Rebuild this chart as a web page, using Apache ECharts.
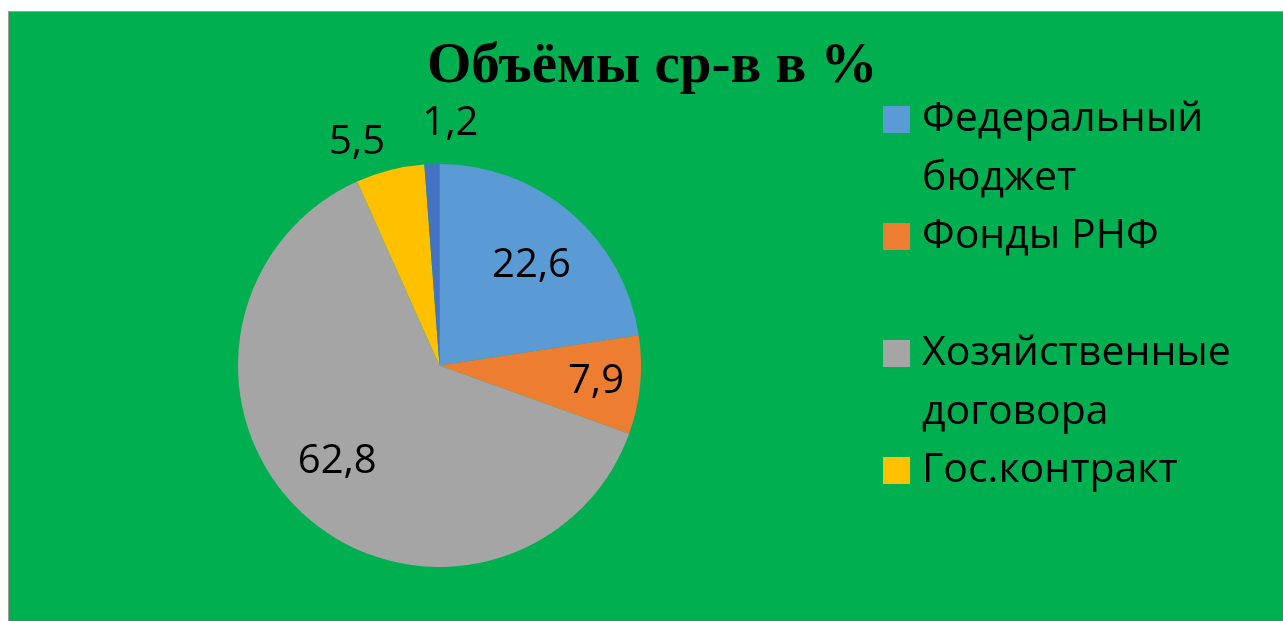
<!DOCTYPE html>
<html><head><meta charset="utf-8">
<script src="https://cdn.jsdelivr.net/npm/echarts@6/dist/echarts.min.js"></script>
<style>
html,body{margin:0;padding:0;background:#fff;width:1283px;height:621px;overflow:hidden}
#chart{position:absolute;left:8px;top:11px;width:1275px;height:610px;border-left:1px solid #9e9e9e;border-top:1px solid #9e9e9e;background:#00B050}
</style></head><body><div id="chart"></div>
<script>
// ---- data ----
const titleText = 'Объёмы ср-в в %';
const categories = ['Федеральный бюджет', 'Фонды РНФ', 'Хозяйственные договора', 'Гос.контракт', ''];
const values = [22.6, 7.9, 62.8, 5.5, 1.2];
const legendNames = ['Федеральный бюджет', 'Фонды РНФ', 'Хозяйственные договора', 'Гос.контракт'];

// ---- style / layout ----
const colors = ['#5B9BD5', '#ED7D31', '#A5A5A5', '#FFC000', '#4472C4'];
const CX = 430.5, CY = 353.5, R = 201.5;
const labelRadius = [0.68, 0.78, 0.69, 1.19, 1.21];
const labelAngleShift = [-1.5, 0.3, -4.5, 5.9, -4.7];
const labelDy = 2;
const LINE_H = 59;

const total = values.reduce((a, b) => a + b, 0);
const midAngles = [];
let cum = 0;
values.forEach(v => { midAngles.push(90 - (cum + v / 2) / total * 360); cum += v; });

// legend entries: first line aligned with the marker, wrapped second line below
const legendLabel = n => ' \n' + (n.length > 12 ? n.replace(' ', '\n') : n + '\n ');

const chart = echarts.init(document.getElementById('chart'), null, {renderer: 'canvas'});
chart.setOption({
  animation: false,
  backgroundColor: 'transparent',
  title: {
    text: titleText, left: 418, top: 27, padding: 0,
    textStyle: {fontFamily: 'Liberation Serif', fontWeight: 'bold', fontSize: 57, color: '#000'}
  },
  legend: {
    orient: 'vertical', left: 874, top: 19, padding: 0, data: legendNames,
    itemWidth: 27, itemHeight: 27, itemGap: -60, icon: 'rect', selectedMode: false,
    formatter: legendLabel,
    textStyle: {fontFamily: 'Open Sans', fontSize: 41, color: '#000', lineHeight: LINE_H, padding: [0, 0, 0, 7]}
  },
  series: [{
    type: 'pie', center: [CX, CY], radius: R, startAngle: 90, clockwise: true,
    silent: true, avoidLabelOverlap: false,
    data: categories.map((n, i) => ({name: n, value: values[i], itemStyle: {color: colors[i]}})),
    itemStyle: {borderWidth: 0},
    label: {
      show: true, position: 'inside', color: '#000', fontFamily: 'Open Sans', fontSize: 40,
      formatter: p => String(p.value).replace('.', ',')
    },
    labelLine: {show: false},
    labelLayout: p => {
      const i = p.dataIndex;
      const a = (midAngles[i] + labelAngleShift[i]) * Math.PI / 180;
      const rr = R * labelRadius[i];
      return {x: CX + rr * Math.cos(a), y: CY - rr * Math.sin(a) + labelDy, align: 'center', verticalAlign: 'middle'};
    },
    emphasis: {disabled: true}
  }]
});
</script></body></html>
